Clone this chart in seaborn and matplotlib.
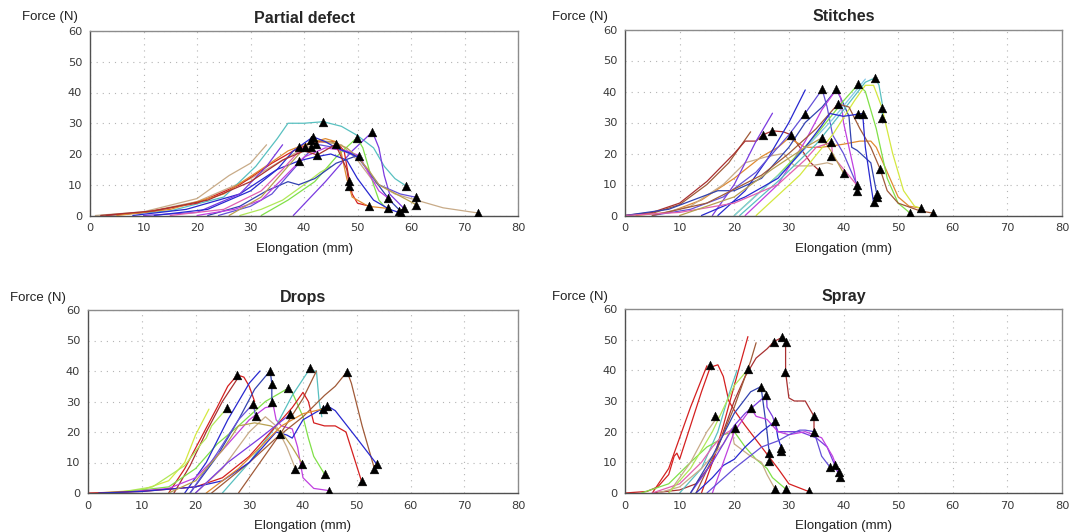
"""
plot.py

Tensile test curves (force vs elongation) for four repair types.
"""

import matplotlib
matplotlib.use("Agg")
import matplotlib.pyplot as plt
import seaborn as sns
import pandas as pd
from matplotlib.ticker import MultipleLocator


# -----------------------------
# Colours used by the test software
# -----------------------------
RED = "#d42020"
DRED = "#a83030"
BROWN = "#a05a38"
TAN = "#c8ab88"
ORANGE = "#e08a30"
BLUE = "#2828d0"
NAVY = "#3242b0"
PURPLE = "#7a3ae0"
VIOLET = "#6450d8"
MAGENTA = "#c040e0"
GREEN = "#80e048"
LGREEN = "#b0e858"
YGREEN = "#d4e840"
CYAN = "#58c0c0"
LBLUE = "#84c8e8"
PINK = "#e060b0"
OLIVE = "#b8a050"

# -----------------------------
# Partial defect
# -----------------------------
pd_x = [
    [1, 10, 20, 26, 28, 30, 33],
    [2, 10, 20, 30, 38, 43, 47, 50, 53, 57, 61, 66, 72.6],
    [3, 15, 25, 31, 35, 37, 40, 43.6, 47, 50, 53, 55, 57, 59.1],
    [38, 44, 49, 52.8, 54, 55, 56, 58, 58.6],
    [32, 37, 42, 46, 49.9, 51, 52, 53, 54, 55],
    [28, 32, 36, 40, 43, 45],
    [3, 10, 20, 28, 34, 38, 42, 46, 47.5, 48.5, 49, 50, 52.1],
    [5, 15, 25, 32, 37, 40, 44, 46, 47, 48, 49, 52, 55.7],
    [8, 18, 28, 35, 39.1, 42, 45, 48, 50, 53, 56, 58.1],
    [22, 28, 33, 37, 39, 42, 46, 50, 53, 56, 58],
    [24, 30, 34, 38, 42.3, 46, 50, 54, 58, 61],
    [20, 27, 32, 36, 40, 44, 48, 50.3, 52, 54, 55.7],
    [10, 20, 28, 33, 36],
    [26, 32, 37, 41.4, 45, 48, 50, 52, 54, 61],
    [15, 25, 32, 36, 39.1, 40.1],
    [12, 22, 30, 35, 38, 41.7, 44, 46, 49, 51],
    [2, 12, 22, 30, 36, 40, 42.5, 45.9, 48, 48.5],
]
pd_y = [
    [0, 1.2, 5.5, 13, 15, 17, 23],
    [0, 1, 4.5, 12, 20, 24, 23, 18, 11, 7, 5, 2.5, 0.8],
    [0, 1.5, 6, 16, 25, 30, 30, 30.5, 29, 26, 22, 16, 12, 9.6],
    [0, 11, 21, 27.2, 22, 13, 7, 3.5, 2.4],
    [0, 5, 11, 19, 25.3, 22, 16, 10, 5, 3],
    [0, 2, 5, 10, 14, 16],
    [0, 1, 4, 10, 17, 21, 24, 24, 21, 11.2, 7, 4, 3.1],
    [0, 2, 7, 15, 21, 23, 25, 24, 20, 12, 6, 3, 2.3],
    [0, 2, 7, 15, 17.8, 19, 20, 18, 12, 5, 2, 0.8],
    [0, 3, 8, 11, 10, 12, 17, 19.5, 12, 5, 1.5],
    [0, 3, 7, 15, 23.2, 22, 19, 10, 7, 5.9],
    [0, 2, 5, 12, 19, 22, 21, 19.5, 14, 8, 5.7],
    [0, 1, 7, 16, 23],
    [0, 6, 16, 24.5, 24, 22, 19, 15, 10, 3.5],
    [0, 2, 8, 15, 21, 22.4],
    [0, 2, 8, 15, 21, 25.6, 24, 22, 20, 18],
    [0, 1.5, 5, 11, 18, 21, 19.7, 23.1, 15, 9.6],
]
pd_colors = [TAN, TAN, CYAN, PURPLE, GREEN, LGREEN, RED, ORANGE, BLUE, NAVY,
             VIOLET, MAGENTA, PURPLE, OLIVE, PINK, BLUE, DRED]
pd_tri_x = [43.6, 52.8, 49.9, 41.7, 41.4, 39.1, 40.1, 41.4, 42.3, 45.9, 39.1,
            42.5, 50.3, 48.5, 48.5, 59.1, 60.9, 61.0, 55.7, 55.7, 52.1, 57.7,
            58.1, 58.6, 72.6]
pd_tri_y = [30.5, 27.2, 25.3, 25.6, 24.5, 22.4, 22.4, 22.4, 23.2, 23.1, 17.8,
            19.7, 19.5, 11.2, 9.6, 9.6, 5.9, 3.5, 5.7, 2.3, 3.1, 1.5,
            0.8, 2.4, 0.8]

# -----------------------------
# Stitches
# -----------------------------
st_x = [
    [0, 5, 10, 15, 19, 21, 23],
    [0, 5, 10, 15, 20, 22, 24, 25.2, 27, 29, 30.4, 32, 34, 35.6],
    [2, 8, 14, 20, 25, 28, 30, 31, 33, 36, 40, 43, 45, 46, 48, 50, 52, 54.1],
    [5, 12, 18, 22, 26, 29, 31, 34, 37, 38],
    [17, 22, 26, 30, 33],
    [0, 8, 14, 17, 20, 25, 30, 33, 36.1, 38.7, 40, 41, 41.5, 42.5, 45, 46.2],
    [16, 20, 24, 27],
    [22, 28, 33, 36, 38.7, 39.5, 40, 41, 42, 42.5],
    [5, 12, 18, 24, 30, 33, 36.1, 37, 38, 40, 42.5],
    [20, 28, 35, 40, 42.7, 44, 46, 48, 50, 52.2],
    [24, 32, 38, 42, 44, 45.5, 47, 49, 51, 53, 54.1],
    [21, 28, 35, 40, 44, 45.8, 46.5, 47.1, 47.1],
    [20, 30, 38, 44],
    [5, 15, 25, 30, 35, 39, 41, 43, 45, 46.7, 48, 50, 54, 56.4],
    [14, 22, 28, 33, 36, 37.5, 40, 43.5, 44, 45, 45.5],
    [0, 10, 20, 28, 33, 35, 37.8, 38, 40, 42.5],
    [10, 20, 27, 33, 36.1, 38, 40],
]
st_y = [
    [0, 0.7, 3.5, 10, 17, 22, 27],
    [0, 1, 4, 11, 20, 24, 24, 26, 27.3, 27, 26, 22, 17, 14.4],
    [0, 1, 5, 12, 19, 22, 25, 24, 22, 22, 23, 24, 24, 22, 14, 6, 3, 2.4],
    [0, 3, 10, 17, 19, 20, 16, 16, 17, 16.5],
    [0, 8, 18, 30, 40.5],
    [0, 2, 6, 8, 8, 12, 22, 30, 35, 40.7, 36, 32, 22, 21, 17, 6],
    [0, 10, 24, 33],
    [0, 10, 24, 34, 40.7, 38, 30, 22, 14, 8],
    [0, 2, 6, 14, 26, 33, 40.7, 35, 26, 20, 9.7],
    [0, 13, 26, 37, 42.3, 40, 28, 12, 4, 0.75],
    [0, 13, 26, 37, 42, 42, 35, 20, 8, 3, 2.4],
    [0, 11, 23, 34, 43, 44.4, 42, 36, 31],
    [0, 16, 31, 44],
    [0, 4, 13, 20, 28, 36, 35, 28, 22, 15, 8, 4, 1.5, 0.75],
    [0, 6, 12, 22, 29, 32.9, 32, 32.9, 22, 10, 4.3],
    [0, 1, 4, 10, 18, 22, 23.6, 19.2, 15, 9.7],
    [0, 6, 15, 22, 25.1, 20, 13.7],
]
st_colors = [BROWN, DRED, ORANGE, TAN, BLUE, NAVY, PURPLE, MAGENTA, VIOLET,
             GREEN, YGREEN, CYAN, LBLUE, BROWN, BLUE, PINK, OLIVE]
st_tri_x = [45.8, 42.7, 36.1, 38.7, 39.0, 33.0, 42.7, 43.5, 47.1, 47.1, 25.2,
            27.0, 30.4, 36.1, 37.8, 37.8, 35.6, 40.0, 46.7, 42.5, 42.5, 45.5,
            46.2, 46.2, 52.2, 54.1, 56.4]
st_tri_y = [44.4, 42.3, 40.7, 40.7, 35.9, 32.9, 32.9, 32.9, 34.8, 31.3, 26.0,
            27.3, 26.0, 25.1, 23.6, 19.2, 14.4, 13.7, 15.0, 9.7, 8.0, 4.3,
            7.0, 5.9, 0.75, 2.4, 0.75]

# -----------------------------
# Drops
# -----------------------------
dr_x = [
    [15, 18, 21, 24, 26, 27.8, 29, 30, 31],
    [16, 19, 22, 25, 28],
    [2, 10, 15, 18, 20, 22.5],
    [5, 12, 18, 21, 22, 23, 25.9],
    [5, 15, 20, 24, 28, 33, 37.3, 38, 40, 41, 42, 44],
    [18, 22, 26, 30, 32],
    [19, 24, 28, 31, 33.9, 34.2, 34.2],
    [5, 15, 20, 25, 30, 33, 34.5, 35, 36, 38, 39, 40, 42, 44.8],
    [25, 30, 35, 38, 41, 42.5, 43, 43.5],
    [28, 32, 36, 40, 42.5],
    [0, 10, 20, 25, 30, 35, 38, 40, 41, 42, 44, 46, 48, 50.9],
    [23, 30, 35, 40, 44, 46, 48.2, 49, 51, 53.3],
    [2, 10, 20, 25, 30, 35, 37, 38, 40, 44.5, 46, 50, 53.7],
    [19, 24, 28, 30.7, 31.2],
    [20, 25, 30, 33, 35, 37, 38.6],
    [15, 20, 25, 28, 31, 34, 36, 38, 39.9],
    [20, 26, 32, 37.6],
    [22, 28, 32, 36, 40, 43.8],
]
dr_y = [
    [0, 8, 18, 28, 35, 38.7, 38, 35, 30],
    [0, 9, 20, 30, 38],
    [0, 1, 4, 10, 19, 27.5],
    [0, 2, 9, 16, 18, 22, 27.9],
    [0, 2, 8, 16, 22, 30, 34.4, 33, 25, 18, 12, 6.2],
    [0, 10, 24, 36, 40],
    [0, 12, 24, 34, 40.1, 35.7, 29.8],
    [0, 1.5, 5, 14, 24, 28, 28.5, 24, 22, 21, 15, 5, 1.5, 0.8],
    [0, 10, 22, 32, 40, 40, 30, 25],
    [0, 10, 20, 31, 40],
    [0, 0.5, 2, 5, 12, 22, 28, 33, 30, 23, 22, 22, 20, 3.8],
    [0, 10, 18, 25, 32, 35, 39.8, 36, 22, 7.9],
    [0, 0.5, 2, 4, 10, 20, 19, 18, 24, 28.6, 27, 18, 9.5],
    [0, 13, 24, 29.2, 25.3],
    [0, 8, 20, 25, 22, 15, 7.9],
    [0, 4, 14, 22, 23, 22, 20, 15, 9.5],
    [0, 10, 18, 25.8],
    [0, 8, 15, 22, 26, 27.6],
]
dr_colors = [RED, DRED, YGREEN, LGREEN, GREEN, BLUE, NAVY, MAGENTA, CYAN,
             BROWN, RED, BROWN, BLUE, VIOLET, TAN, OLIVE, PURPLE, ORANGE]
dr_tri_x = [27.8, 33.9, 41.3, 48.2, 34.2, 37.3, 30.7, 34.2, 25.9, 31.2, 37.6,
            43.8, 44.5, 35.8, 38.6, 39.9, 44.0, 53.3, 53.7, 50.9, 44.8]
dr_tri_y = [38.7, 40.1, 41.1, 39.8, 35.7, 34.4, 29.2, 29.8, 27.9, 25.3, 25.8,
            27.6, 28.6, 19.3, 7.9, 9.5, 6.2, 7.9, 9.5, 3.8, 0.8]

# -----------------------------
# Spray
# -----------------------------
sp_x = [
    [0, 4, 6, 8, 9, 9.5, 10, 12, 14, 15.6, 17, 18, 19, 20, 22, 25, 28, 30, 33.6],
    [5, 8, 12, 15],
    [5, 10, 13, 16, 18, 20, 22, 24, 26, 27.3, 28.8, 29.4, 29.4, 30, 31, 33, 34.6, 34.6],
    [14, 16, 18, 20, 22.5],
    [13, 17, 20, 23, 24],
    [10, 14, 17, 19, 20.5],
    [3, 8, 12, 15, 17, 18, 20, 22, 24, 26, 27, 29.5],
    [8, 12, 15, 17],
    [6, 10, 14, 18, 19.5, 20, 23, 25, 26, 27.5],
    [5, 10, 14, 16, 18, 20.2],
    [13, 16, 18, 20, 22, 25, 27.5, 28, 28.6],
    [12, 16, 20, 22, 24, 25.9, 26, 27, 28, 32, 35, 37, 38.4, 39.3],
    [12, 16, 20, 23, 24.9, 26, 26.4],
    [16, 20, 22, 23.1, 24, 26, 28, 30, 33, 36, 38, 39.1],
    [15, 20, 25, 28, 30, 32, 33, 34.6, 36, 37.5],
    [8, 12, 16, 20, 22.5],
]
sp_y = [
    [0, 0.5, 2, 6, 12, 13, 11, 22, 33, 41, 41.8, 38, 30, 27, 22, 15, 8, 3, 0.5],
    [0, 8, 28, 41.5],
    [0, 1, 3, 10, 20, 30, 38, 44, 47, 49.4, 50.8, 49.4, 39.4, 31, 30, 30, 25, 20],
    [0, 10, 22, 35, 51],
    [0, 15, 28, 43, 49],
    [0, 8, 20, 32, 40],
    [0, 3, 10, 15, 17, 19, 20, 15, 11, 8, 5, 1.2],
    [0, 10, 20, 25],
    [0, 2, 8, 16, 21, 16, 12, 10, 6, 1.2],
    [0, 3, 10, 15, 19, 21.3],
    [0, 5, 9, 11, 15, 20, 23.4, 18, 14.8],
    [0, 10, 22, 26, 29, 32, 28, 25, 20, 20, 18, 15, 9.1, 5.2],
    [0, 12, 26, 33, 34.7, 20, 13.1],
    [0, 20, 25, 27.6, 25, 24, 20, 19, 20, 18, 12, 6.9],
    [0, 8, 15, 17, 19, 20.5, 20.5, 20, 12, 8.5],
    [0, 8, 20, 35, 40.3],
]
sp_colors = [RED, RED, DRED, RED, BROWN, CYAN, GREEN, TAN, TAN, PINK, BLUE,
             PURPLE, NAVY, MAGENTA, VIOLET, LGREEN]
sp_tri_x = [15.6, 27.3, 28.8, 29.4, 22.5, 29.3, 24.9, 25.9, 23.1, 16.4, 20.2,
            27.5, 34.6, 34.6, 26.4, 26.4, 28.6, 28.6, 37.5, 38.4, 39.1, 39.3,
            27.5, 29.5, 33.6]
sp_tri_y = [41.8, 49.4, 50.8, 49.4, 40.3, 39.4, 34.7, 32.0, 27.6, 25.2, 21.3,
            23.4, 25.1, 20.0, 13.1, 10.5, 14.8, 13.7, 8.5, 9.1, 6.9, 5.2,
            1.2, 1.2, 0.5]


def curves_frame(xs, ys):
    rows = []
    for i, (cx, cy) in enumerate(zip(xs, ys)):
        for a, b in zip(cx, cy):
            rows.append({"curve": f"c{i:02d}", "x": a, "y": b})
    return pd.DataFrame(rows)


def draw_panel(ax, xs, ys, colors, tri_x, tri_y, title):
    df = curves_frame(xs, ys)
    pal = {f"c{i:02d}": c for i, c in enumerate(colors)}
    sns.lineplot(data=df, x="x", y="y", hue="curve", palette=pal,
                 sort=False, estimator=None, legend=False, lw=0.9, ax=ax)
    sns.scatterplot(x=tri_x, y=tri_y, marker="^", color="black", s=40,
                    edgecolor="black", linewidth=0.3, ax=ax, zorder=5)

    ax.set_xlim(0, 80)
    ax.set_ylim(0, 60)
    ax.xaxis.set_major_locator(MultipleLocator(10))
    ax.yaxis.set_major_locator(MultipleLocator(10))
    ax.xaxis.set_minor_locator(MultipleLocator(5))
    ax.yaxis.set_minor_locator(MultipleLocator(5))
    ax.grid(True, which="major", color="#b4b4b4", lw=0.8, ls=(0, (1, 4.5)))
    ax.set_axisbelow(True)
    ax.tick_params(which="major", direction="inout", length=5, width=0.9,
                   color="#555555", labelsize=8.2, labelcolor="#3a3a3a", pad=3)
    ax.tick_params(which="minor", direction="inout", length=4, width=0.9,
                   color="#555555")
    for lab in ax.get_xticklabels() + ax.get_yticklabels():
        lab.set_family("DejaVu Sans")

    for side in ["left", "bottom"]:
        ax.spines[side].set_color("#505050")
        ax.spines[side].set_linewidth(1.0)
    for side in ["top", "right"]:
        ax.spines[side].set_color("#8c8c8c")
        ax.spines[side].set_linewidth(1.0)

    ax.set_title(title, fontsize=11.5, fontweight="bold",
                 family="Liberation Sans", pad=6)
    ax.set_xlabel("Elongation (mm)", fontsize=9.5, family="Liberation Sans",
                  color="#222222", labelpad=7)
    ax.set_ylabel("")


sns.set_style("white")

W, H = 1073, 532
fig = plt.figure(figsize=(W / 100, H / 100), dpi=100)


def px_axes(left, right, top, bottom):
    return fig.add_axes([left / W, 1 - bottom / H, (right - left) / W,
                         (bottom - top) / H])


ax_pd = px_axes(90, 518, 31, 215.5)
ax_st = px_axes(625, 1062, 29.5, 215.5)
ax_dr = px_axes(88, 518, 310, 493)
ax_sp = px_axes(625, 1062, 309, 493)

draw_panel(ax_pd, pd_x, pd_y, pd_colors, pd_tri_x, pd_tri_y, "Partial defect")
draw_panel(ax_st, st_x, st_y, st_colors, st_tri_x, st_tri_y, "Stitches")
draw_panel(ax_dr, dr_x, dr_y, dr_colors, dr_tri_x, dr_tri_y, "Drops")
draw_panel(ax_sp, sp_x, sp_y, sp_colors, sp_tri_x, sp_tri_y, "Spray")

# "Force (N)" labels sit above-left of each y axis
for fx, fy in [(22, 17), (552, 17), (10, 298), (552, 297)]:
    fig.text(fx / W, 1 - fy / H, "Force (N)", fontsize=9.5,
             family="Liberation Sans", color="#222222", va="center", ha="left")

fig.savefig("out.png", dpi=100)
